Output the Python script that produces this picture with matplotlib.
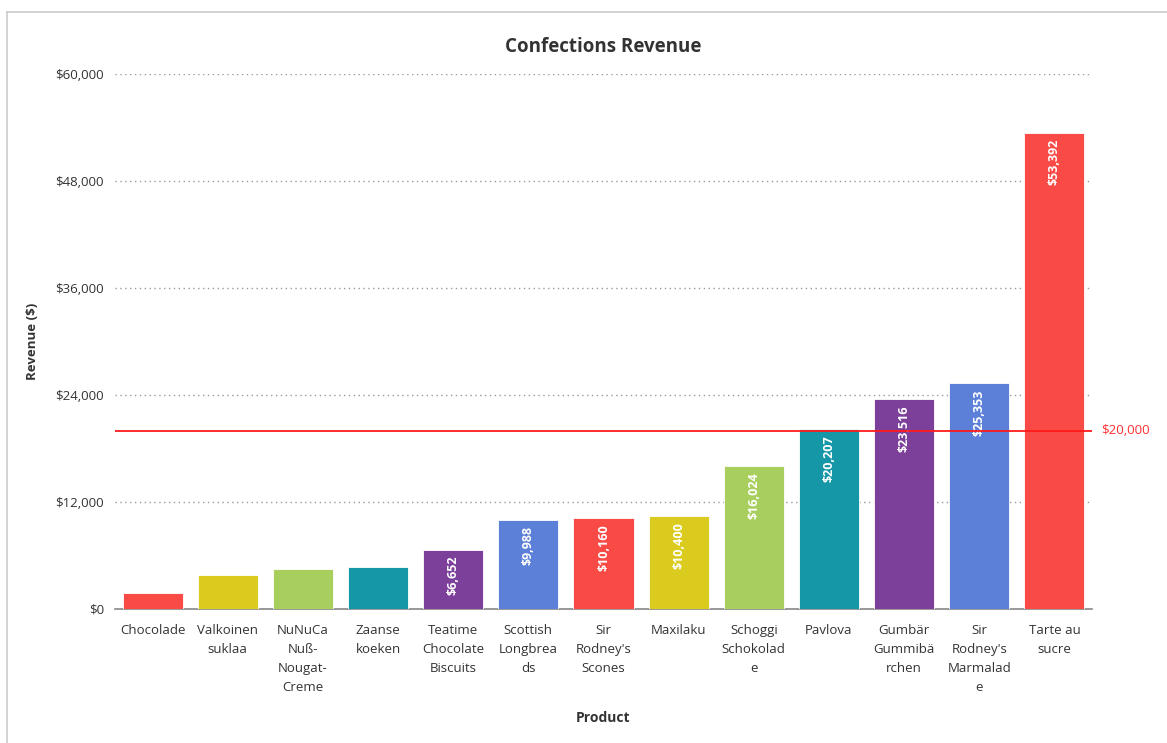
import matplotlib.pyplot as plt
from matplotlib.lines import Line2D
from matplotlib.ticker import FuncFormatter

# chart data
products = ['Chocolade', 'Valkoinen\nsuklaa', 'NuNuCa\nNuß-\nNougat-\nCreme', 'Zaanse\nkoeken',
            'Teatime\nChocolate\nBiscuits', 'Scottish\nLongbrea\nds', "Sir\nRodney's\nScones",
            'Maxilaku', 'Schoggi\nSchokolad\ne', 'Pavlova', 'Gumbär\nGummibä\nrchen',
            "Sir\nRodney's\nMarmalad\ne", 'Tarte au\nsucre']
revenue = [1795, 3813, 4452, 4680, 6652, 9988, 10160, 10400, 16024, 20207, 23516, 25353, 53392]
palette = ['#F94A46', '#DBCB1E', '#A8CF5D', '#1597A8', '#7C3F9A', '#5C7FD8']
yticks = [0, 12000, 24000, 36000, 48000, 60000]
target = 20000

plt.rcParams['font.family'] = ['Open Sans', 'DejaVu Sans']

fig = plt.figure(figsize=(11.67, 7.43), dpi=100)
ax = fig.add_axes([115 / 1167, 1 - 609 / 743, (1092 - 115) / 1167, (609 - 74) / 743])

colors = [palette[i % len(palette)] for i in range(len(products))]
x = range(len(products))
bars = ax.bar(x, revenue, width=0.8, color=colors, edgecolor='white', linewidth=0.6, zorder=3)

# value labels inside the bars (only where they fit)
for b, v in zip(bars, revenue):
    if v > 6000:
        ax.text(b.get_x() + b.get_width() / 2, v - 700, '${:,}'.format(v), rotation=90,
                ha='center', va='top', color='white', fontsize=9, fontweight='bold', zorder=4)

ax.axhline(target, color='#FF1A1A', linewidth=1.3, zorder=5)
ax.text(12.5 + 0.12, target, '${:,}'.format(target), color='#FF3030', fontsize=9.5,
        va='center', ha='left', clip_on=False)

ax.set_xlim(-0.5, 12.5)
ax.set_ylim(0, 60000)
ax.set_yticks(yticks)
ax.yaxis.set_major_formatter(FuncFormatter(lambda v, p: '${:,.0f}'.format(v)))
ax.set_xticks(list(x))
ax.set_xticklabels(products, fontsize=9.5, color='#333333', linespacing=1.6)
ax.tick_params(axis='y', labelsize=9.5, colors='#333333', length=0, pad=8)
ax.tick_params(axis='x', length=0, pad=11)
ax.grid(axis='y', linestyle=(0, (1, 2.5)), color='#999999', linewidth=1, zorder=0)
for s in ['top', 'right', 'left']:
    ax.spines[s].set_visible(False)
ax.spines['bottom'].set_color('#888888')
ax.spines['bottom'].set_linewidth(1.2)

ax.set_title('Confections Revenue', fontsize=13.5, fontweight='bold', color='#333333', pad=16)
ax.set_xlabel('Product', fontsize=10, fontweight='bold', color='#333333', labelpad=12)
ax.set_ylabel('Revenue ($)', fontsize=9.5, fontweight='bold', color='#333333', labelpad=12)

# light frame around the chart (top and left edges)
fig.add_artist(Line2D([7 / 1167, 7 / 1167], [0, 1 - 12 / 743], transform=fig.transFigure,
                      color='#CCCCCC', linewidth=1.2))
fig.add_artist(Line2D([7 / 1167, 1], [1 - 12 / 743, 1 - 12 / 743], transform=fig.transFigure,
                      color='#CCCCCC', linewidth=1.2))

fig.savefig('out.png', dpi=100)
